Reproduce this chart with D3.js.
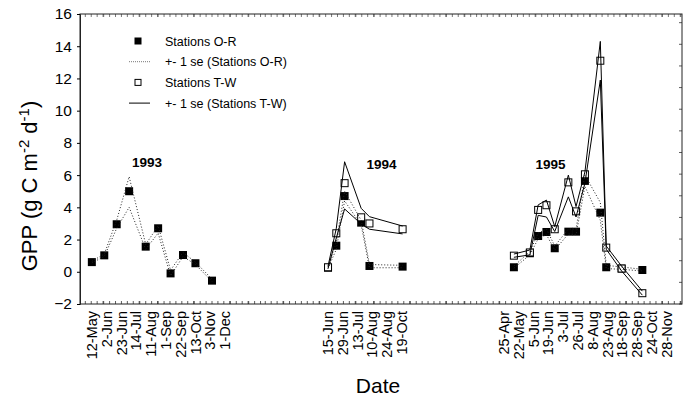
<!DOCTYPE html>
<html>
<head>
<meta charset="utf-8">
<script src="https://cdn.jsdelivr.net/npm/d3@7"></script>
<style>
  body { margin: 0; background: #fff; }
  text { font-family: "Liberation Sans", Arial, sans-serif; fill: #000; }
</style>
</head>
<body>
<div id="chart"></div>
<script>
// 1993 - stations O-R only
var dates93 = ["1993-05-12","1993-06-02","1993-06-23","1993-07-14","1993-08-11","1993-09-01","1993-09-22","1993-10-13","1993-11-03","1993-12-01"];
var labels93 = ["12-May","2-Jun","23-Jun","14-Jul","11-Aug","1-Sep","22-Sep","13-Oct","3-Nov","1-Dec"];
var or93   = [0.6, 1.02, 2.95, 5.0, 1.56, 2.7, -0.1, 1.04, 0.53, -0.55];
var or93Hi = [0.65, 1.1, 3.2, 5.9, 1.7, 2.85, 0.1, 1.2, 0.6, -0.45];
var or93Lo = [0.55, 0.95, 2.7, 4.0, 1.4, 2.4, -0.25, 0.95, 0.45, -0.6];

// 1994
var dates94 = ["1994-06-15","1994-06-29","1994-07-13","1994-08-10","1994-08-24","1994-10-19"];
var labels94 = ["15-Jun","29-Jun","13-Jul","10-Aug","24-Aug","19-Oct"];
var or94   = [0.25, 1.62, 4.7, 3.05, 0.36, 0.32];
var or94Hi = [0.3, 1.85, 5.0, 3.2, 0.45, 0.4];
var or94Lo = [0.2, 1.4, 4.4, 2.9, 0.25, 0.25];
var tw94   = [0.28, 2.39, 5.5, 3.38, 3.0, 2.64];
var tw94Hi = [0.35, 2.7, 6.83, 3.94, 3.42, 2.84];
var tw94Lo = [0.2, 2.1, 3.9, 2.97, 2.64, 2.35];

// 1995
var dates95 = ["1995-04-25","1995-05-22","1995-06-05","1995-06-19","1995-07-03","1995-07-26","1995-08-08","1995-08-23","1995-09-18","1995-09-28","1995-10-24","1995-11-28"];
var labels95 = ["25-Apr","22-May","5-Jun","19-Jun","3-Jul","26-Jul","8-Aug","23-Aug","18-Sep","28-Sep","24-Oct","28-Nov"];
var or95   = [0.28, 1.15, 2.22, 2.47, 1.46, 2.49, 2.49, 5.64, 3.67, 0.28, 0.2, 0.11];
var or95Hi = [0.35, 1.25, 2.4, 2.65, 1.6, 2.65, 2.65, 6.0, 4.3, 0.4, 0.3, 0.15];
var or95Lo = [0.22, 1.05, 2.05, 2.3, 1.35, 2.35, 2.3, 5.3, 3.2, 0.2, 0.15, 0.05];
var tw95   = [1.0, 1.2, 3.84, 4.13, 2.64, 5.55, 3.75, 6.05, 13.1, 1.5, 0.2, -1.33];
var tw95Hi = [1.1, 1.35, 4.15, 4.45, 2.8, 6.0, 4.05, 6.2, 14.3, 1.6, 0.35, -1.2];
var tw95Lo = [0.9, 1.05, 3.5, 3.4, 2.5, 4.65, 3.4, 5.5, 11.9, 1.4, 0.05, -1.45];

var yTicks = [-2, 0, 2, 4, 6, 8, 10, 12, 14, 16];

var width = 684, height = 400;
// careful: "top" is a window global, so use other names
var plotLeft = 80, plotRight = 682, plotTop = 14, plotBottom = 304;

var parse = d3.timeParse("%Y-%m-%d");

var svg = d3.select("#chart").append("svg")
    .attr("width", width)
    .attr("height", height);

var x = d3.scaleTime()
    .domain([parse("1993-04-22"), parse("1996-02-03")])
    .range([plotLeft, plotRight]);
var y = d3.scaleLinear().domain([-2, 16]).range([plotBottom, plotTop]);
// right side ticks use their own spacing
var y2 = d3.scaleLinear().domain([0, 13.4]).range([plotBottom, plotTop]);

// frame + ticks
var minor = x.ticks(d3.timeDay.every(10));
svg.append("g").selectAll("line").data(minor).enter().append("line")
    .attr("x1", function(d) { return x(d); }).attr("x2", function(d) { return x(d); })
    .attr("y1", plotBottom).attr("y2", plotBottom - 3)
    .attr("stroke", "#333").attr("stroke-width", 0.8);
svg.append("g").selectAll("line").data(minor).enter().append("line")
    .attr("x1", function(d) { return x(d); }).attr("x2", function(d) { return x(d); })
    .attr("y1", plotTop).attr("y2", plotTop + 3)
    .attr("stroke", "#555").attr("stroke-width", 0.8);
svg.append("g").selectAll("line").data(y2.ticks(14)).enter().append("line")
    .attr("x1", plotRight).attr("x2", plotRight - 3)
    .attr("y1", function(d) { return y2(d); }).attr("y2", function(d) { return y2(d); })
    .attr("stroke", "#333").attr("stroke-width", 0.8);

svg.append("rect")
    .attr("x", plotLeft).attr("y", plotTop)
    .attr("width", plotRight - plotLeft).attr("height", plotBottom - plotTop)
    .attr("fill", "none").attr("stroke", "#222").attr("stroke-width", 1);

var yAxis = svg.append("g")
    .attr("transform", "translate(" + plotLeft + ",0)")
    .call(d3.axisLeft(y).tickValues(yTicks).tickSize(3).tickPadding(5));
yAxis.select(".domain").attr("stroke", "#222");
yAxis.selectAll("text").style("font-size", "15.5px").style("font-family", "Liberation Sans, Arial, sans-serif");

// date labels, stacked like a rotated text block
var labelBlocks = [
    { labels: labels93, start: x(parse(dates93[0])) },
    { labels: labels94, start: x(parse(dates94[0])) },
    { labels: labels95, start: x(parse(dates95[0])) - 10 }
];
labelBlocks.forEach(function(b) {
    svg.append("g").selectAll("text").data(b.labels).enter().append("text")
        .attr("transform", function(d, i) { return "translate(" + (b.start + i * 14.8) + "," + (plotBottom + 7) + ") rotate(-90)"; })
        .attr("text-anchor", "end")
        .attr("dy", "0.35em")
        .style("font-size", "14.5px")
        .text(function(d) { return d; });
});

// axis titles
svg.append("text")
    .attr("x", 378).attr("y", 393)
    .attr("text-anchor", "middle")
    .style("font-size", "21px")
    .text("Date");

var yl = svg.append("text")
    .attr("transform", "translate(37,186) rotate(-90)")
    .attr("text-anchor", "middle")
    .style("font-size", "22px");
yl.append("tspan").text("GPP (g C m");
yl.append("tspan").attr("dy", -8).style("font-size", "15px").text("-2");
yl.append("tspan").attr("dy", 8).text(" d");
yl.append("tspan").attr("dy", -8).style("font-size", "15px").text("-1");
yl.append("tspan").attr("dy", 8).text(")");

function pts(dates, vals) {
    return dates.map(function(d, i) { return [parse(d), vals[i]]; });
}

var line = d3.line()
    .x(function(d) { return x(d[0]); })
    .y(function(d) { return y(d[1]); });

var sq = 8;
function filled(dates, vals) {
    svg.append("g").selectAll("rect").data(pts(dates, vals)).enter().append("rect")
        .attr("x", function(d) { return x(d[0]) - sq / 2; })
        .attr("y", function(d) { return y(d[1]) - sq / 2; })
        .attr("width", sq).attr("height", sq)
        .attr("fill", "#000");
}
function open(dates, vals) {
    svg.append("g").selectAll("rect").data(pts(dates, vals)).enter().append("rect")
        .attr("x", function(d) { return x(d[0]) - sq / 2 + 0.5; })
        .attr("y", function(d) { return y(d[1]) - sq / 2 + 0.5; })
        .attr("width", sq - 1).attr("height", sq - 1)
        .attr("fill", "#fff").attr("stroke", "#000").attr("stroke-width", 1);
}
function dotted(dates, vals) {
    svg.append("path").datum(pts(dates, vals))
        .attr("d", line)
        .attr("fill", "none").attr("stroke", "#222")
        .attr("stroke-width", 1).attr("stroke-dasharray", "1,2");
}
function solid(dates, vals) {
    svg.append("path").datum(pts(dates, vals))
        .attr("d", line)
        .attr("fill", "none").attr("stroke", "#000")
        .attr("stroke-width", 1);
}

filled(dates93, or93);
filled(dates94, or94);
filled(dates95, or95);
open(dates94, tw94);
open(dates95, tw95);

dotted(dates93, or93Hi); dotted(dates93, or93Lo);
dotted(dates94, or94Hi); dotted(dates94, or94Lo);
dotted(dates95, or95Hi); dotted(dates95, or95Lo);
solid(dates94, tw94Hi); solid(dates94, tw94Lo);
solid(dates95, tw95Hi); solid(dates95, tw95Lo);

// year labels
var years = [
    { t: "1993", d: dates93[3], yy: 167 },
    { t: "1994", d: dates94[4], yy: 169 },
    { t: "1995", d: dates95[3], yy: 169 }
];
var yearDx = [18, 12, 4];
svg.append("g").selectAll("text").data(years).enter().append("text")
    .attr("x", function(d, i) { return x(parse(d.d)) + yearDx[i]; })
    .attr("y", function(d) { return d.yy; })
    .attr("text-anchor", "middle")
    .style("font-size", "13.5px").style("font-weight", "bold")
    .text(function(d) { return d.t; });

// legend
var legend = [
    { t: "Stations O-R", k: "filled" },
    { t: "+- 1 se (Stations O-R)", k: "dotted" },
    { t: "Stations T-W", k: "open" },
    { t: "+- 1 se (Stations T-W)", k: "solid" }
];
var lg = svg.append("g").attr("transform", "translate(138,41)");
legend.forEach(function(d, i) {
    var g = lg.append("g").attr("transform", "translate(0," + (i * 20.7) + ")");
    if (d.k == "filled") {
        g.append("rect").attr("x", -3.5).attr("y", -3.5).attr("width", 7).attr("height", 7).attr("fill", "#000");
    } else if (d.k == "open") {
        g.append("rect").attr("x", -3).attr("y", -3).attr("width", 6).attr("height", 6)
            .attr("fill", "#fff").attr("stroke", "#000");
    } else {
        g.append("line").attr("x1", -9).attr("x2", 12).attr("y1", 0).attr("y2", 0)
            .attr("stroke", d.k == "solid" ? "#000" : "#777")
            .attr("stroke-width", 1)
            .attr("stroke-dasharray", d.k == "dotted" ? "1,1" : null);
    }
    g.append("text").attr("x", 27).attr("y", 4.5)
        .style("font-size", "12.5px")
        .text(d.t);
});
</script>
</body>
</html>
